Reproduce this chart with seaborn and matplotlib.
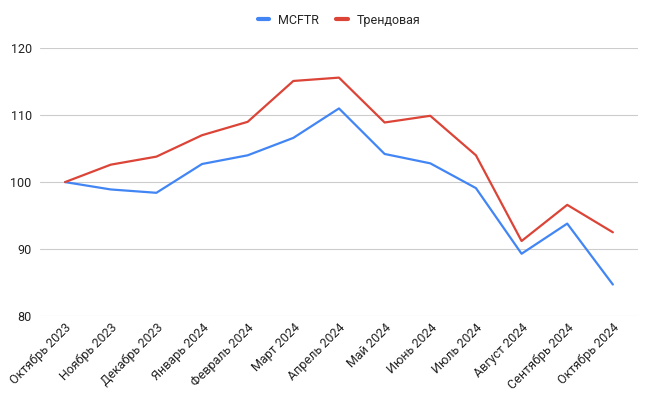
import numpy as np
import pandas as pd
import matplotlib
matplotlib.use("Agg")
import matplotlib.pyplot as plt
import seaborn as sns

# данные
months = ["Октябрь 2023", "Ноябрь 2023", "Декабрь 2023", "Январь 2024",
          "Февраль 2024", "Март 2024", "Апрель 2024", "Май 2024",
          "Июнь 2024", "Июль 2024", "Август 2024", "Сентябрь 2024",
          "Октябрь 2024"]
mcftr = [100.0, 98.9, 98.4, 102.7, 104.0, 106.6, 111.0, 104.2, 102.8, 99.1, 89.3, 93.8, 84.7]
trend = [100.0, 102.6, 103.8, 107.0, 109.0, 115.1, 115.6, 108.9, 109.9, 104.0, 91.2, 96.6, 92.5]

df = pd.DataFrame({"Месяц": months, "MCFTR": mcftr, "Трендовая": trend})
long_df = df.melt(id_vars="Месяц", var_name="Серия", value_name="Значение")

sns.set_style("white")
plt.rcParams["font.family"] = ["Roboto", "DejaVu Sans"]

fig = plt.figure(figsize=(6.5, 3.98), dpi=100)
ax = fig.add_axes([0.0615, 0.206, 0.92, 0.673])

sns.lineplot(data=long_df, x="Месяц", y="Значение", hue="Серия",
             palette={"MCFTR": "#4285F4", "Трендовая": "#DB4437"},
             linewidth=1.6, sort=False, ax=ax)

ax.set_ylim(80, 120)
ax.set_yticks([80, 90, 100, 110, 120])
ax.set_xlim(-0.55, len(months) - 0.45)
ax.grid(axis="y", color="#cccccc", linewidth=0.8)
ax.grid(axis="x", visible=False)
for s in ax.spines.values():
    s.set_visible(False)
ax.tick_params(axis="both", length=0, labelsize=9, labelcolor="#222222")
ax.tick_params(axis="y", pad=6)
plt.setp(ax.get_xticklabels(), rotation=45, ha="right", rotation_mode="anchor")
ax.set_xlabel("")
ax.set_ylabel("")

ax.legend(loc="center", bbox_to_anchor=(0.5, 1.105), ncol=2, frameon=False,
          fontsize=9, handlelength=0.9, handletextpad=0.7, columnspacing=1.4,
          title=None)
for h in ax.get_legend().get_lines():
    h.set_linewidth(3)

fig.savefig("out.png", dpi=100)
